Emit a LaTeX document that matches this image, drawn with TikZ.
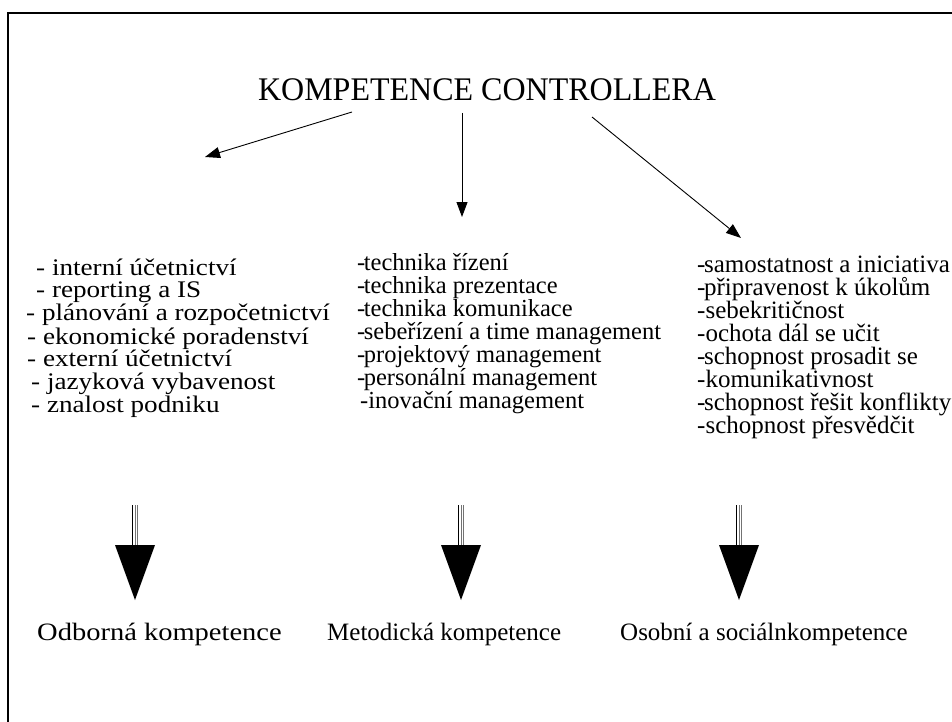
\documentclass[tikz,border=0pt]{standalone}
\usepackage{fontspec}
\setmainfont{Liberation Serif}
\newfontfamily\headfont[FakeStretch=0.97]{Liberation Serif}
\newfontfamily\widefont[FakeStretch=1.14]{Liberation Serif}
\usetikzlibrary{arrows.meta}
% tight leading hyphen used in the right-hand lists
\newcommand{\tightdash}{-\kern-1.5pt}

\begin{document}
\begin{tikzpicture}[x=1pt,y=-1pt,
  widetext/.style={anchor=base west, inner sep=0pt, text height=14pt, text depth=5pt,
                  font=\widefont\fontsize{23.8}{23.8}\selectfont},
  listtext/.style={anchor=base west, inner sep=0pt, text height=14pt, text depth=5pt,
                  font=\fontsize{24.5}{24.5}\selectfont},
  righttext/.style={listtext, font=\fontsize{25}{25}\selectfont},
  headtext/.style={inner sep=0pt, font=\headfont\fontsize{33}{33}\selectfont},
  thinarrow/.style={line width=0.9pt, -{Triangle[length=15pt,width=11pt]}},
  shaft/.style={line width=0.8pt},
  frameline/.style={line width=2pt}
]
\useasboundingbox (0,0) rectangle (952,722);

% frame of the slide
\draw[frameline] (8,722) -- (8,13) -- (952,13);

% heading
\node[headtext] (title) at (487,90) {KOMPETENCE CONTROLLERA};

% three branches leaving the heading
\coordinate (lfrom) at (352,112);
\coordinate (lto)   at (205,157);
\coordinate (mfrom) at (462,113);
\coordinate (mto)   at (462,217);
\coordinate (rfrom) at (592,117);
\coordinate (rto)   at (741,238);
\draw[thinarrow] (lfrom) -- (lto);
\draw[thinarrow] (mfrom) -- (mto);
\draw[thinarrow] (rfrom) -- (rto);

% first column: professional skills
\node[widetext] (a1) at (36,275) {- interní účetnictví};
\node[widetext] (a2) at (36,297) {- reporting a IS};
\node[widetext] (a3) at (26,320) {- plánování a rozpočetnictví};
\node[widetext] (a4) at (27,344) {- ekonomické poradenství};
\node[widetext] (a5) at (27,366) {- externí účetnictví};
\node[widetext] (a6) at (31,389) {- jazyková vybavenost};
\node[widetext] (a7) at (31,412) {- znalost podniku};

% second column: methodical skills
\node[listtext] (b1) at (357,270) {\tightdash technika řízení};
\node[listtext] (b2) at (357,293) {\tightdash technika prezentace};
\node[listtext] (b3) at (357,316) {\tightdash technika komunikace};
\node[listtext] (b4) at (357,339) {\tightdash sebeřízení a time management};
\node[listtext] (b5) at (357,362) {\tightdash projektový management};
\node[listtext] (b6) at (357,385) {\tightdash personální management};
\node[listtext] (b7) at (360,408) {-inovační management};

% third column: personal and social skills
\node[righttext] (c1) at (697,272) {\tightdash samostatnost a iniciativa};
\node[righttext] (c2) at (697,295) {\tightdash připravenost k úkolům};
\node[righttext] (c3) at (697,318) {-sebekritičnost};
\node[righttext] (c4) at (697,341) {-ochota dál se učit};
\node[righttext] (c5) at (697,364) {\tightdash schopnost prosadit se};
\node[righttext] (c6) at (697,387) {-komunikativnost};
\node[righttext] (c7) at (697,410) {\tightdash schopnost řešit konflikty};
\node[righttext] (c8) at (697,433) {-schopnost přesvědčit};

% summary labels
\node[widetext, font=\widefont\fontsize{25}{25}\selectfont] (ka) at (37,640) {Odborná kompetence};
\node[righttext] (kb) at (327,640) {Metodická kompetence};
\node[righttext] (kc) at (620,640) {Osobní a sociálnkompetence};

% heavy arrows: triple shaft and a solid wedge
\foreach \x/\n in {135/a, 461/b, 739/c} {
  \coordinate (top\n) at (\x,505);
  \coordinate (mid\n) at (\x,545);
  \coordinate (tip\n) at (\x,600);
  \draw[shaft] ([xshift=-2.5pt]top\n) -- ([xshift=-2.5pt]mid\n);
  \draw[shaft, black!55] (top\n) -- (mid\n);
  \draw[shaft, black!55] ([xshift=2.5pt]top\n) -- ([xshift=2.5pt]mid\n);
  \fill ([xshift=-20pt]mid\n) -- ([xshift=20pt]mid\n) -- (tip\n) -- cycle;
}
\end{tikzpicture}
\end{document}
